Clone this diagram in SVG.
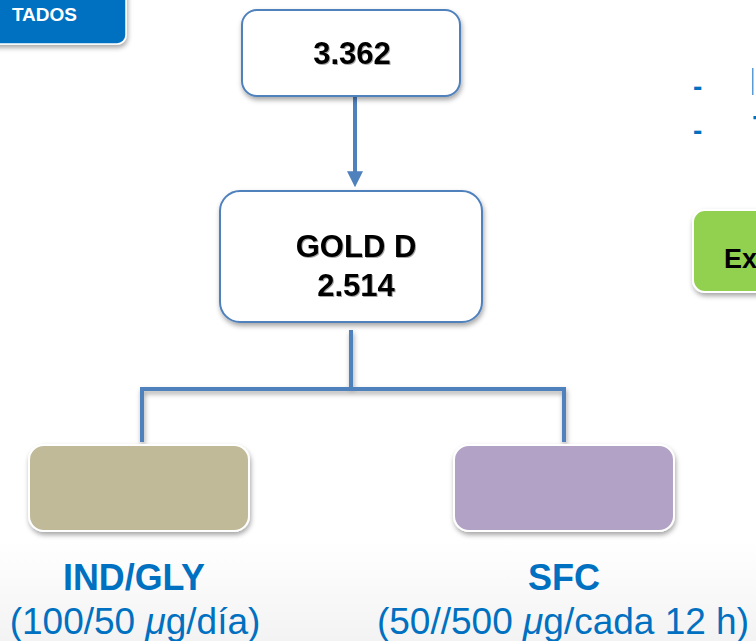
<svg xmlns="http://www.w3.org/2000/svg" width="756" height="641" viewBox="0 0 756 641">
  <defs>
    <filter id="sh" x="-10%" y="-10%" width="130%" height="140%">
      <feDropShadow dx="1" dy="3" stdDeviation="2.5" flood-color="#000" flood-opacity="0.35"/>
    </filter>
    <filter id="tsh" x="-10%" y="-20%" width="130%" height="150%">
      <feDropShadow dx="1" dy="1" stdDeviation="0.6" flood-color="#000" flood-opacity="0.35"/>
    </filter>
    <linearGradient id="bg" x1="0" y1="0" x2="0" y2="1">
      <stop offset="0" stop-color="#ffffff"/>
      <stop offset="1" stop-color="#f3f3f3"/>
    </linearGradient>
    <marker id="ah" markerWidth="4" markerHeight="4" refX="1.2" refY="2" orient="auto" markerUnits="strokeWidth">
      <path d="M0,0 L4,2 L0,4 Z" fill="#4F81BD"/>
    </marker>
  </defs>
  <style>
    .box { fill: #ffffff; stroke: #4F81BD; stroke-width: 2; }
    .conn { fill: none; stroke: #4F81BD; stroke-width: 4; }
    .num { font-family: "Liberation Sans", Arial, sans-serif; font-weight: bold; font-size: 31px; fill: #000; text-anchor: middle; }
    .lbl { font-family: "Liberation Sans", Arial, sans-serif; font-weight: bold; font-size: 36px; fill: #0070C0; text-anchor: middle; }
    .sub { font-family: "Liberation Sans", Arial, sans-serif; font-size: 37px; fill: #0070C0; text-anchor: middle; }
    .leaf { stroke: #ffffff; stroke-width: 2; }
    .dash { font-family: "Liberation Sans", Arial, sans-serif; font-weight: bold; font-size: 28px; fill: #0070C0; }
  </style>
  <rect x="0" y="0" width="756" height="641" fill="#ffffff"/>
  <rect x="0" y="540" width="756" height="101" fill="url(#bg)"/>

  <g id="header">
    <rect x="-20" y="-20" width="146" height="64" rx="9" fill="#0070C0" stroke="#ffffff" stroke-width="1.5" filter="url(#sh)"/>
    <text x="77" y="21" font-family="Liberation Sans, Arial, sans-serif" font-weight="bold" font-size="19" fill="#ffffff" text-anchor="end">TADOS</text>
  </g>

  <g id="connectors">
    <path class="conn" d="M355,97 V176" marker-end="url(#ah)"/>
    <path class="conn" d="M351,330 V389 M140,389 H566 M142,387 V442 M564,387 V442" filter="url(#sh)"/>
  </g>

  <g id="node-total">
    <rect class="box" x="242" y="10" width="218" height="86" rx="15" filter="url(#sh)"/>
    <text class="num" x="352" y="64" filter="url(#tsh)">3.362</text>
  </g>

  <g id="node-gold">
    <rect class="box" x="220" y="191" width="262" height="131" rx="20" filter="url(#sh)"/>
    <text class="num" x="356" y="257" filter="url(#tsh)">GOLD D</text>
    <text class="num" x="356" y="296" filter="url(#tsh)">2.514</text>
  </g>

  <g id="node-indgly">
    <rect class="leaf" x="29" y="445" width="220" height="86" rx="15" fill="#C0BA98" filter="url(#sh)"/>
    <text class="lbl" x="134" y="590" textLength="142" lengthAdjust="spacingAndGlyphs">IND/GLY</text>
    <text class="sub" x="135" y="634">(100/50 <tspan font-style="italic">μ</tspan>g/día)</text>
  </g>

  <g id="node-sfc">
    <rect class="leaf" x="454" y="445" width="220" height="86" rx="15" fill="#B2A2C6" filter="url(#sh)"/>
    <text class="lbl" x="564" y="590">SFC</text>
    <text class="sub" x="563" y="634">(50//500 <tspan font-style="italic">μ</tspan>g/cada 12 h)</text>
  </g>

  <g id="bullets">
    <text class="dash" x="693" y="96">-</text>
    <text class="dash" x="693" y="140">-</text>
    <rect x="752" y="68" width="1.5" height="27" fill="#5B9BD5"/>
    <text x="753" y="136" font-family="Liberation Sans, Arial, sans-serif" font-weight="bold" font-size="30" fill="#0070C0">T</text>
  </g>

  <g id="node-ex">
    <rect x="693" y="210" width="90" height="82" rx="12" fill="#92D050" stroke="#ffffff" stroke-width="2" filter="url(#sh)"/>
    <text x="724" y="268" font-family="Liberation Sans, Arial, sans-serif" font-weight="bold" font-size="27" fill="#000">Ex</text>
  </g>
</svg>
